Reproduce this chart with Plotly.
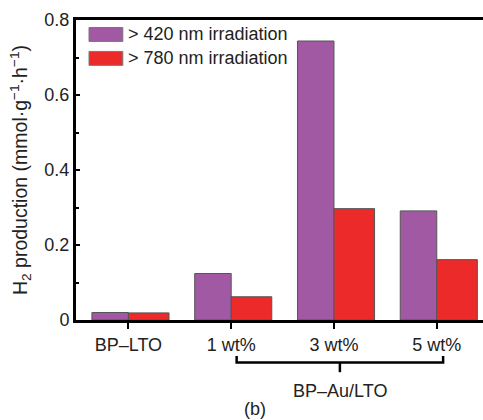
import plotly.graph_objects as go

categories = ["BP\u2013LTO", "1 wt%", "3 wt%", "5 wt%"]
series_names = ["> 420 nm irradiation", "> 780 nm irradiation"]
vis_420 = [0.020, 0.124, 0.744, 0.291]
nir_780 = [0.019, 0.062, 0.297, 0.161]
group_label = "BP\u2013Au/LTO"
panel_label = "(b)"

purple = "#A259A3"
red = "#EC2A2A"
font = "Liberation Sans, Arial, sans-serif"
txt = "#222222"

fig = go.Figure()
fig.add_trace(go.Bar(x=categories, y=vis_420, name=series_names[0],
                     marker=dict(color=purple, line=dict(color="#555555", width=1)),
                     width=0.355, offset=-0.355, showlegend=False))
fig.add_trace(go.Bar(x=categories, y=nir_780, name=series_names[1],
                     marker=dict(color=red, line=dict(color="#555555", width=1)),
                     width=0.395, offset=0, showlegend=False))

# manual legend (wide swatches)
leg_rows = [(series_names[0], purple, 0.975, 0.9286, 0.952),
            (series_names[1], red, 0.8953, 0.8488, 0.872)]
for name, col, y1, y0, yc in leg_rows:
    fig.add_shape(type="rect", xref="paper", yref="paper", x0=0.032, x1=0.115,
                  y0=y0, y1=y1, fillcolor=col, line=dict(color="#777777", width=1))
    fig.add_annotation(xref="paper", yref="paper", x=0.122, y=yc, text=name,
                       showarrow=False, xanchor="left", yanchor="middle",
                       font=dict(family=font, size=18, color=txt))

# bracket under 1-5 wt%
xa, xb = 1.053, 3.062
xm = (xa + xb) / 2
fig.add_shape(type="path", xref="x", yref="paper",
              path=f"M {xa},-0.120 L {xa},-0.142 L {xb},-0.142 L {xb},-0.120",
              line=dict(color="black", width=2.5))
fig.add_shape(type="line", xref="x", yref="paper", x0=xm, x1=xm, y0=-0.142, y1=-0.174,
              line=dict(color="black", width=2.5))
fig.add_annotation(xref="x", yref="paper", x=xm, y=-0.236, text=group_label,
                   showarrow=False, yanchor="middle",
                   font=dict(family=font, size=18, color=txt))
fig.add_annotation(xref="paper", yref="paper", x=0.44, y=-0.297, text=panel_label,
                   showarrow=False, yanchor="middle",
                   font=dict(family=font, size=18, color=txt))

fig.update_layout(
    width=483, height=420,
    margin=dict(l=76, r=0, t=20, b=100),
    paper_bgcolor="white", plot_bgcolor="white",
    barmode="overlay",
    font=dict(family=font, size=18, color=txt),
    xaxis=dict(range=[-0.51, 3.45], showline=True, linecolor="black", linewidth=3,
               mirror=True, ticks="outside", ticklen=6, tickwidth=2, tickcolor="black",
               showgrid=False, zeroline=False, tickfont=dict(size=18, color=txt)),
    yaxis=dict(range=[0, 0.8], dtick=0.2, tick0=0, showline=True, linecolor="black",
               linewidth=3, ticks="inside", ticklen=4, tickwidth=2, tickcolor="black",
               showgrid=False, zeroline=False, tickfont=dict(size=18, color=txt),
               minor=dict(dtick=0.1, ticks="inside", ticklen=3, tickwidth=2, tickcolor="black"),
               title=dict(text="H<sub>2</sub> production (mmol\u00b7g<sup>\u22121</sup>\u00b7h<sup>\u22121</sup>)",
                          font=dict(size=19.5, color=txt), standoff=12)),
)

fig.write_html("out.html")
